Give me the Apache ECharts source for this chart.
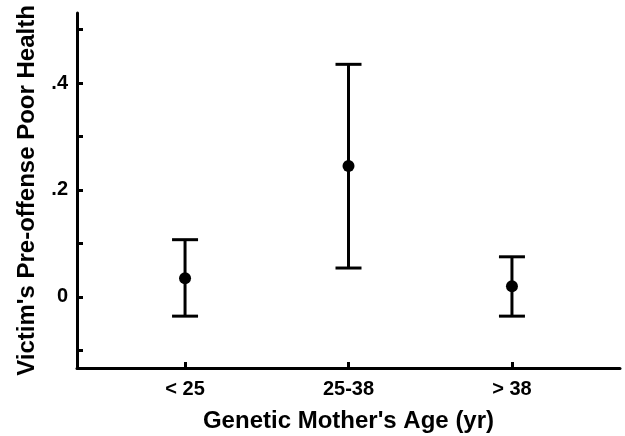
<!DOCTYPE html>
<html>
<head>
<meta charset="utf-8">
<script src="https://cdn.jsdelivr.net/npm/echarts@6/dist/echarts.min.js"></script>
<style>
  html, body { margin: 0; padding: 0; background: #fff; }
  #chart { width: 625px; height: 436px; }
</style>
</head>
<body>
<div id="chart"></div>
<script>
var categories = ['< 25', '25-38', '> 38'];
var means = [0.035, 0.245, 0.020];
var lower = [-0.036, 0.054, -0.036];
var upper = [0.107, 0.435, 0.075];
var yTicks = [-0.1, 0, 0.1, 0.2, 0.3, 0.4, 0.5];
var yLabels = [0, 0.2, 0.4];
var yLabelText = ['0', '.2', '.4'];

var FONT = 'Liberation Sans, Arial, Helvetica, sans-serif';
var chart = echarts.init(document.getElementById('chart'));

var barData = categories.map(function (c, i) { return [i, lower[i], upper[i]]; });
var pointData = categories.map(function (c, i) { return [i, means[i]]; });

chart.setOption({
  animation: false,
  grid: { left: 77, top: 13, right: 5, bottom: 68, containLabel: false, outerBoundsMode: 'none' },
  xAxis: {
    type: 'value',
    min: -0.661,
    max: 2.661,
    splitLine: { show: false },
    axisLine: { onZero: false, lineStyle: { color: '#000', width: 3 } },
    axisTick: { show: true, inside: true, length: 6, lineStyle: { color: '#000', width: 3 }, customValues: [0, 1, 2] },
    axisLabel: {
      customValues: [0, 1, 2],
      formatter: function (v) { return categories[Math.round(v)]; },
      color: '#000', fontFamily: FONT, fontWeight: 'bold', fontSize: 20, margin: 11
    },
    name: "Genetic Mother's Age (yr)",
    nameLocation: 'middle',
    nameGap: 41,
    nameTextStyle: { color: '#000', fontFamily: FONT, fontWeight: 'bold', fontSize: 24 }
  },
  yAxis: {
    type: 'value',
    min: -0.133,
    max: 0.531,
    splitLine: { show: false },
    axisLine: { show: true, onZero: false, lineStyle: { color: '#000', width: 3 } },
    axisTick: { show: true, inside: true, length: 6, lineStyle: { color: '#000', width: 3 }, customValues: yTicks },
    axisLabel: {
      customValues: yLabels,
      formatter: function (v) {
        var idx = yLabels.findIndex(function (t) { return Math.abs(t - v) < 1e-9; });
        return idx >= 0 ? yLabelText[idx] : '';
      },
      color: '#000', fontFamily: FONT, fontWeight: 'bold', fontSize: 20, margin: 9
    },
    name: "Victim's Pre-offense Poor Health",
    nameLocation: 'middle',
    nameGap: 38,
    nameTextStyle: { color: '#000', fontFamily: FONT, fontWeight: 'bold', fontSize: 24 }
  },
  series: [
    {
      type: 'custom',
      data: barData,
      renderItem: function (params, api) {
        var x = api.value(0);
        var lo = api.coord([x, api.value(1)]);
        var hi = api.coord([x, api.value(2)]);
        var hw = 13;
        var style = { stroke: '#000', lineWidth: 3, fill: null };
        return {
          type: 'group',
          children: [
            { type: 'line', shape: { x1: lo[0], y1: lo[1], x2: hi[0], y2: hi[1] }, style: style },
            { type: 'line', shape: { x1: lo[0] - hw, y1: lo[1], x2: lo[0] + hw, y2: lo[1] }, style: style },
            { type: 'line', shape: { x1: hi[0] - hw, y1: hi[1], x2: hi[0] + hw, y2: hi[1] }, style: style }
          ]
        };
      },
      z: 2
    },
    {
      type: 'scatter',
      data: pointData,
      symbol: 'circle',
      symbolSize: 12,
      itemStyle: { color: '#000', opacity: 1 },
      z: 3
    }
  ]
});
</script>
</body>
</html>
